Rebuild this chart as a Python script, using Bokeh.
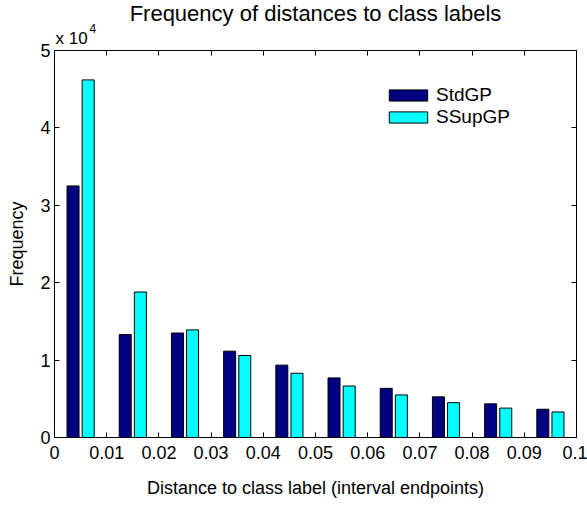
from bokeh.plotting import figure
from bokeh.models import (Range1d, LinearAxis, FixedTicker, CustomJSTickFormatter,
                          Legend, LegendItem, Title, ColumnDataSource)
from bokeh.embed import file_html
from bokeh.resources import INLINE

# ---- data ----
bin_centers = [0.005, 0.015, 0.025, 0.035, 0.045, 0.055, 0.065, 0.075, 0.085, 0.095]
stdgp = [32500, 13300, 13500, 11150, 9350, 7700, 6350, 5250, 4350, 3650]
ssupgp = [46200, 18800, 13900, 10600, 8300, 6650, 5500, 4500, 3800, 3300]
series_names = ["StdGP", "SSupGP"]
x_ticks = [0, 0.01, 0.02, 0.03, 0.04, 0.05, 0.06, 0.07, 0.08, 0.09, 0.1]
y_ticks = [0, 10000, 20000, 30000, 40000, 50000]

FONT = "Liberation Sans"
offset = 0.00145
bw = 0.0023

p = figure(width=587, height=506, output_backend="svg", toolbar_location=None,
           x_range=Range1d(0, 0.1), y_range=Range1d(0, 50000),
           min_border_left=54, min_border_right=11, min_border_top=42, min_border_bottom=69)
p.grid.visible = False
p.background_fill_color = "white"
p.border_fill_color = "white"
p.outline_line_color = "black"
p.outline_line_width = 1

src = ColumnDataSource(dict(
    x1=[c - offset for c in bin_centers], x2=[c + offset for c in bin_centers],
    s1=stdgp, s2=ssupgp))
r1 = p.vbar(x="x1", top="s1", width=bw, source=src, fill_color="#000080", line_color="black", line_width=1)
r2 = p.vbar(x="x2", top="s2", width=bw, source=src, fill_color="#00FFFF", line_color="black", line_width=1)

fmt_x = CustomJSTickFormatter(code="return tick.toFixed(2).replace(/0+$/,'').replace(/\\.$/,'');")
fmt_y = CustomJSTickFormatter(code="return (tick/10000).toFixed(0);")

def style(ax, labels=True):
    ax.major_tick_in = 5
    ax.major_tick_out = 0
    ax.minor_tick_line_color = None
    ax.axis_line_color = "black"
    ax.major_tick_line_color = "black"
    ax.major_label_text_font = FONT
    ax.major_label_text_font_size = "18px"
    ax.major_label_text_color = "black"
    ax.axis_label_text_font = FONT
    ax.axis_label_text_font_size = "18px"
    ax.axis_label_text_font_style = "normal"
    ax.axis_label_text_color = "black"
    if not labels:
        ax.major_label_text_font_size = "0px"
        ax.major_label_text_color = None
        ax.major_label_standoff = 0

xa = p.xaxis[0]
xa.ticker = FixedTicker(ticks=x_ticks)
xa.formatter = fmt_x
xa.axis_label = "Distance to class label (interval endpoints)"
style(xa)
xa.major_label_standoff = 8
xa.axis_label_standoff = 16

ya = p.yaxis[0]
ya.ticker = FixedTicker(ticks=y_ticks)
ya.formatter = fmt_y
ya.axis_label = "Frequency"
style(ya)
ya.major_label_standoff = 4
ya.axis_label_standoff = 10

top = LinearAxis(ticker=FixedTicker(ticks=x_ticks))
style(top, labels=False)
p.add_layout(top, "above")
right = LinearAxis(ticker=FixedTicker(ticks=y_ticks))
style(right, labels=False)
p.add_layout(right, "right")

p.title.text = "Frequency of distances to class labels"
p.title.align = "center"
p.title.text_font = FONT
p.title.text_font_size = "22px"
p.title.text_font_style = "normal"
p.title.text_color = "black"
p.title.standoff = -4

exp_title = Title(text="x 10", align="left", offset=1, standoff=6,
                  text_font=FONT, text_font_size="17px", text_font_style="normal",
                  text_color="black")
p.add_layout(exp_title, "above")
sup_title = Title(text="4", align="left", offset=35, standoff=-18,
                  text_font=FONT, text_font_size="12px", text_font_style="normal",
                  text_color="black")
p.add_layout(sup_title, "above")

legend = Legend(items=[LegendItem(label=series_names[0], renderers=[r1]),
                       LegendItem(label=series_names[1], renderers=[r2])],
                location=(330, 309), glyph_width=48, glyph_height=14, spacing=-9,
                padding=2, margin=0, label_standoff=4, label_height=14,
                label_text_font=FONT, label_text_font_size="19px",
                label_text_color="black",
                border_line_color=None, background_fill_alpha=0)
p.add_layout(legend)

open("out.html", "w").write(file_html(p, INLINE))
